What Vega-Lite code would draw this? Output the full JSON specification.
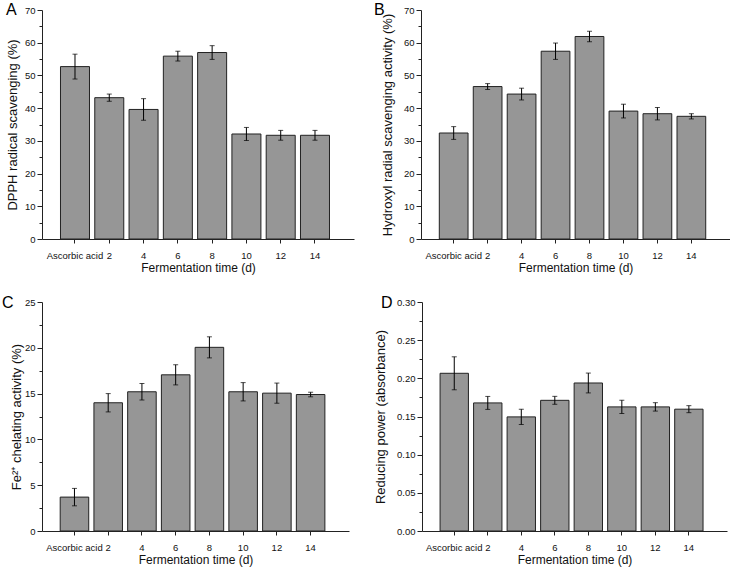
{
  "$schema": "https://vega.github.io/schema/vega-lite/v6.json",
  "background": "white",
  "padding": {"left": 2, "top": 2, "right": 2, "bottom": 2},
  "config": {
    "view": {"stroke": null},
    "font": "Liberation Sans",
    "axis": {
      "grid": false,
      "domainColor": "#222",
      "tickColor": "#222",
      "labelColor": "#111",
      "titleColor": "#111",
      "labelFont": "Liberation Sans",
      "titleFont": "Liberation Sans",
      "labelFontSize": 9.5,
      "titleFontWeight": "normal",
      "tickSize": 5,
      "labelPadding": 2
    },
    "axisX": {"titleFontSize": 12, "labelAngle": 0, "tickSize": 4, "labelPadding": 7, "titlePadding": 3},
    "axisY": {"titleFontSize": 13},
    "title": {"fontSize": 16, "fontWeight": "normal", "anchor": "start", "frame": "bounds", "color": "black", "font": "Liberation Sans"},
    "concat": {"spacing": 21}
  },
  "datasets": {
    "A": [
      {"t": "Ascorbic acid", "v": 52.7, "e": 3.8},
      {"t": "2", "v": 43.2, "e": 1.1},
      {"t": "4", "v": 39.6, "e": 3.3},
      {"t": "6", "v": 55.9, "e": 1.5},
      {"t": "8", "v": 57.0, "e": 2.1},
      {"t": "10", "v": 32.1, "e": 2.0},
      {"t": "12", "v": 31.7, "e": 1.5},
      {"t": "14", "v": 31.7, "e": 1.5}
    ],
    "B": [
      {"t": "Ascorbic acid", "v": 32.4, "e": 1.95},
      {"t": "2", "v": 46.6, "e": 0.9},
      {"t": "4", "v": 44.3, "e": 1.8},
      {"t": "6", "v": 57.4, "e": 2.5},
      {"t": "8", "v": 61.9, "e": 1.6},
      {"t": "10", "v": 39.1, "e": 2.1},
      {"t": "12", "v": 38.3, "e": 1.9},
      {"t": "14", "v": 37.5, "e": 0.8}
    ],
    "C": [
      {"t": "Ascorbic acid", "v": 3.7, "e": 0.95},
      {"t": "2", "v": 14.0, "e": 1.0},
      {"t": "4", "v": 15.2, "e": 0.9},
      {"t": "6", "v": 17.05, "e": 1.1},
      {"t": "8", "v": 20.05, "e": 1.15},
      {"t": "10", "v": 15.2, "e": 1.0},
      {"t": "12", "v": 15.05, "e": 1.1},
      {"t": "14", "v": 14.9, "e": 0.25}
    ],
    "D": [
      {"t": "Ascorbic acid", "v": 0.2066, "e": 0.0216},
      {"t": "2", "v": 0.1678, "e": 0.0085},
      {"t": "4", "v": 0.1495, "e": 0.0100},
      {"t": "6", "v": 0.1712, "e": 0.0052},
      {"t": "8", "v": 0.1939, "e": 0.0130},
      {"t": "10", "v": 0.1626, "e": 0.0087},
      {"t": "12", "v": 0.1626, "e": 0.0055},
      {"t": "14", "v": 0.1596, "e": 0.0046}
    ]
  },
  "vconcat": [
    {
      "spacing": 19,
      "hconcat": [
        {
          "width": 312, "height": 229,
          "title": {"text": "A", "offset": -13, "dx": 0},
          "data": {"name": "A"},
          "encoding": {
            "x": {"field": "t", "type": "nominal", "sort": null,
                  "scale": {"paddingInner": 0.154, "paddingOuter": 0.627, "align": 0.43},
                  "axis": {"title": "Fermentation time (d)"}},
            "y": {"field": "v", "type": "quantitative", "scale": {"domain": [0, 70], "nice": false},
                  "axis": {"title": "DPPH radical scavenging (%)", "titleX": -23,
                           "values": [0, 5, 10, 15, 20, 25, 30, 35, 40, 45, 50, 55, 60, 65, 70],
                           "labelExpr": "datum.value % 10 === 0 ? datum.label : ''",
                           "tickSize": {"condition": {"test": "datum.value % 10 === 0", "value": 5}, "value": 3}}}
          },
          "layer": [
            {"mark": {"type": "bar", "fill": "#969696", "stroke": "#222", "strokeWidth": 1}},
            {"mark": {"type": "errorbar", "ticks": {"size": 5}, "color": "black"}, "encoding": {"yError": {"field": "e"}}}
          ]
        },
        {
          "width": 309, "height": 229,
          "title": {"text": "B", "offset": -13, "dx": -7},
          "data": {"name": "B"},
          "encoding": {
            "x": {"field": "t", "type": "nominal", "sort": null,
                  "scale": {"paddingInner": 0.154, "paddingOuter": 0.627, "align": 0.43},
                  "axis": {"title": "Fermentation time (d)"}},
            "y": {"field": "v", "type": "quantitative", "scale": {"domain": [0, 70], "nice": false},
                  "axis": {"title": "Hydroxyl radial scavenging activity (%)", "titleX": -27,
                           "values": [0, 5, 10, 15, 20, 25, 30, 35, 40, 45, 50, 55, 60, 65, 70],
                           "labelExpr": "datum.value % 10 === 0 ? datum.label : ''",
                           "tickSize": {"condition": {"test": "datum.value % 10 === 0", "value": 5}, "value": 3}}}
          },
          "layer": [
            {"mark": {"type": "bar", "fill": "#969696", "stroke": "#222", "strokeWidth": 1}},
            {"mark": {"type": "errorbar", "ticks": {"size": 5}, "color": "black"}, "encoding": {"yError": {"field": "e"}}}
          ]
        }
      ]
    },
    {
      "spacing": 24,
      "hconcat": [
        {
          "width": 307, "height": 229,
          "title": {"text": "C", "offset": -14, "dx": -8},
          "data": {"name": "C"},
          "encoding": {
            "x": {"field": "t", "type": "nominal", "sort": null,
                  "scale": {"paddingInner": 0.154, "paddingOuter": 0.627, "align": 0.43},
                  "axis": {"title": "Fermentation time (d)"}},
            "y": {"field": "v", "type": "quantitative", "scale": {"domain": [0, 25], "nice": false},
                  "axis": {"title": "Fe²⁺ chelating activity (%)", "titleX": -19,
                           "values": [0, 2.5, 5, 7.5, 10, 12.5, 15, 17.5, 20, 22.5, 25],
                           "labelExpr": "datum.value % 5 === 0 ? datum.label : ''",
                           "tickSize": {"condition": {"test": "datum.value % 5 === 0", "value": 5}, "value": 3}}}
          },
          "layer": [
            {"mark": {"type": "bar", "fill": "#969696", "stroke": "#222", "strokeWidth": 1}},
            {"mark": {"type": "errorbar", "ticks": {"size": 5}, "color": "black"}, "encoding": {"yError": {"field": "e"}}}
          ]
        },
        {
          "width": 305, "height": 229,
          "title": {"text": "D", "offset": -14, "dx": 7},
          "data": {"name": "D"},
          "encoding": {
            "x": {"field": "t", "type": "nominal", "sort": null,
                  "scale": {"paddingInner": 0.154, "paddingOuter": 0.627, "align": 0.43},
                  "axis": {"title": "Fermentation time (d)"}},
            "y": {"field": "v", "type": "quantitative", "scale": {"domain": [0, 0.3], "nice": false},
                  "axis": {"title": "Reducing power (absorbance)", "titleX": -35, "format": ".2f",
                           "values": [0, 0.025, 0.05, 0.075, 0.1, 0.125, 0.15, 0.175, 0.2, 0.225, 0.25, 0.275, 0.3],
                           "labelExpr": "round(datum.value * 1000) % 50 === 0 ? datum.label : ''",
                           "tickSize": {"condition": {"test": "round(datum.value * 1000) % 50 === 0", "value": 5}, "value": 3}}}
          },
          "layer": [
            {"mark": {"type": "bar", "fill": "#969696", "stroke": "#222", "strokeWidth": 1}},
            {"mark": {"type": "errorbar", "ticks": {"size": 5}, "color": "black"}, "encoding": {"yError": {"field": "e"}}}
          ]
        }
      ]
    }
  ]
}
